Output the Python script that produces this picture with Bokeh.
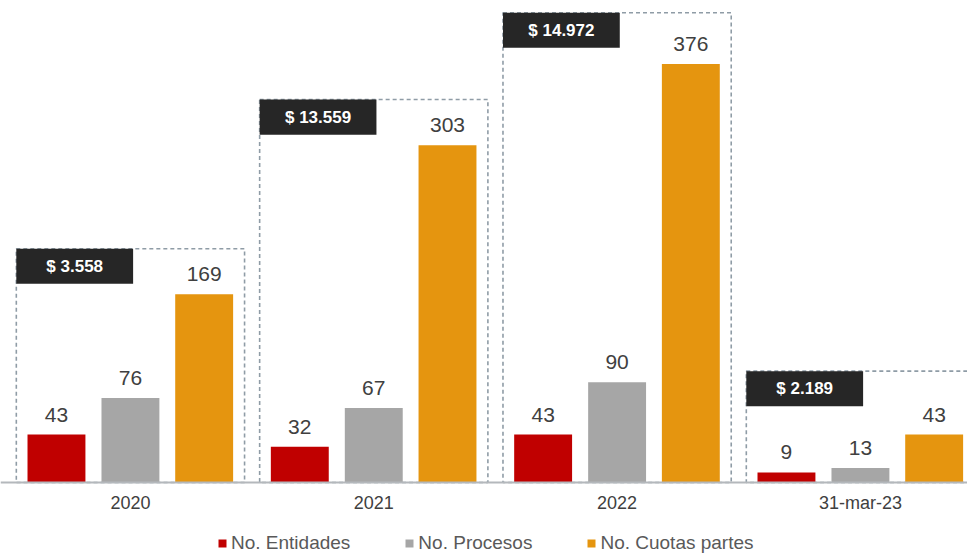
from bokeh.plotting import figure
from bokeh.models import ColumnDataSource, Range1d, FixedTicker, Legend, LegendItem
from bokeh.core.properties import value
from bokeh.embed import file_html
from bokeh.resources import INLINE

categories = ["2020", "2021", "2022", "31-mar-23"]
entidades = [43, 32, 43, 9]
procesos = [76, 67, 90, 13]
cuotas = [169, 303, 376, 43]
montos = ["$ 3.558", "$ 13.559", "$ 14.972", "$ 2.189"]
frame_tops = [210, 344, 422, 100]

series = [("No. Entidades", entidades, "#c00000"),
          ("No. Procesos", procesos, "#a6a6a6"),
          ("No. Cuotas partes", cuotas, "#e5950f")]

FONT = "Liberation Sans"
idx = list(range(len(categories)))

p = figure(width=967, height=554, x_range=Range1d(-0.534, 3.44), y_range=Range1d(-64.7, 433),
           output_backend="svg", toolbar_location=None, min_border=0)
p.yaxis.visible = False
p.grid.visible = False
p.outline_line_color = None
p.background_fill_color = "white"

# dashed frames
half = 0.469
fsrc = ColumnDataSource(dict(left=[i - half for i in idx], right=[i + half for i in idx],
                             top=frame_tops, bottom=[0] * len(idx)))
p.quad(left="left", right="right", top="top", bottom="bottom", source=fsrc,
       fill_alpha=0, line_color="#8f9ca6", line_dash="4 3", line_width=1.6)

# bars
offsets = [-0.304, 0.0, 0.303]
renderers = []
for (name, vals, col), off in zip(series, offsets):
    src = ColumnDataSource(dict(x=[i + off for i in idx], top=vals, lab=[str(v) for v in vals]))
    r = p.vbar(x="x", top="top", width=0.238, source=src, fill_color=col, line_color=None)
    renderers.append((name, r))
    p.text(x="x", y="top", text="lab", source=src, text_align="center", text_baseline="middle",
           y_offset=-20, text_font=value(FONT), text_font_size="21px", text_color="#404040")

# amount labels
bw = 0.48
lsrc = ColumnDataSource(dict(left=[i - half for i in idx], right=[i - half + bw for i in idx],
                             top=frame_tops, bottom=[t - 31.5 for t in frame_tops],
                             xc=[i - half + bw / 2 for i in idx], yc=[t - 15.75 for t in frame_tops],
                             txt=montos))
p.quad(left="left", right="right", top="top", bottom="bottom", source=lsrc,
       fill_color="#262626", line_color=None)
p.text(x="xc", y="yc", text="txt", source=lsrc, text_align="center", text_baseline="middle",
       text_font=value(FONT), text_font_size="17px", text_font_style="bold", text_color="white")

ax = p.xaxis[0]
ax.fixed_location = 0
ax.ticker = FixedTicker(ticks=idx)
ax.major_label_overrides = {i: c for i, c in zip(idx, categories)}
ax.axis_line_color = "#b4b8bc"
ax.axis_line_width = 2
ax.major_tick_line_color = None
ax.minor_tick_line_color = None
ax.major_label_standoff = 5
ax.major_label_text_font = FONT
ax.major_label_text_font_size = "18px"
ax.major_label_text_color = "#404040"

legend = Legend(items=[LegendItem(label=n, renderers=[r]) for n, r in renderers],
                orientation="horizontal", location=(217, 0))
legend.label_text_font = FONT
legend.label_text_font_size = "19px"
legend.label_text_color = "#595959"
legend.glyph_width = 10
legend.glyph_height = 10
legend.spacing = 54
legend.label_standoff = 4
legend.border_line_color = None
legend.background_fill_alpha = 0
legend.padding = 0
legend.margin = 0
p.add_layout(legend)

open("out.html", "w").write(file_html(p, INLINE))
